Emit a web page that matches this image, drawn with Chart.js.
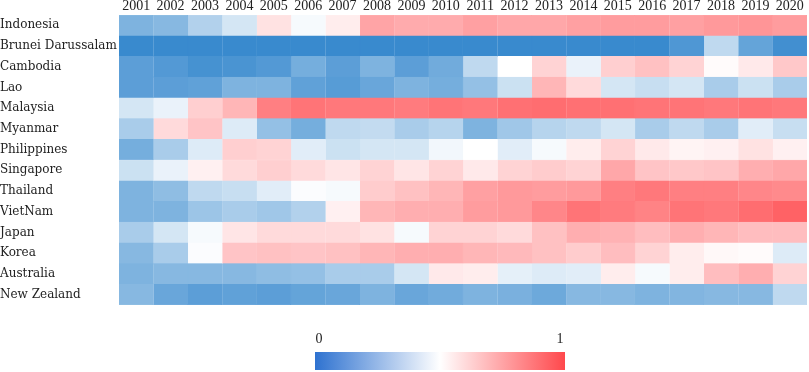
<!DOCTYPE html>
<html>
<head>
<meta charset="utf-8">
<script src="https://cdn.jsdelivr.net/npm/chart.js@4/dist/chart.umd.min.js"></script>
<style>
  html, body { margin: 0; padding: 0; background: #fff; }
  #wrap { width: 809px; height: 372px; position: relative; }
</style>
</head>
<body>
<div id="wrap"><canvas id="heat"></canvas></div>
<script>
// heatmap, values scaled 0..1
const years = ["2001","2002","2003","2004","2005","2006","2007","2008","2009","2010",
               "2011","2012","2013","2014","2015","2016","2017","2018","2019","2020"];
const countries = ["Indonesia","Brunei Darussalam","Cambodia","Lao","Malaysia","Myanmar",
                   "Philippines","Singapore","Thailand","VietNam","Japan","Korea","Australia","New Zealand"];

const indonesia   = [0.20,0.22,0.32,0.40,0.58,0.48,0.55,0.75,0.73,0.73,0.76,0.74,0.74,0.76,0.77,0.77,0.76,0.78,0.79,0.77];
const brunei      = [0.04,0.04,0.04,0.04,0.04,0.04,0.04,0.04,0.04,0.04,0.04,0.04,0.04,0.04,0.04,0.04,0.09,0.35,0.14,0.06];
const cambodia    = [0.12,0.10,0.07,0.08,0.10,0.18,0.12,0.20,0.12,0.17,0.35,0.50,0.62,0.45,0.63,0.67,0.62,0.51,0.56,0.65];
const lao         = [0.12,0.12,0.13,0.20,0.20,0.13,0.11,0.15,0.20,0.18,0.25,0.38,0.70,0.60,0.40,0.37,0.40,0.30,0.38,0.30];
const malaysia    = [0.40,0.45,0.63,0.70,0.85,0.88,0.87,0.87,0.86,0.88,0.87,0.89,0.90,0.89,0.89,0.88,0.88,0.87,0.88,0.87];
const myanmar     = [0.30,0.60,0.66,0.42,0.25,0.18,0.35,0.36,0.30,0.33,0.20,0.28,0.33,0.35,0.40,0.30,0.35,0.30,0.43,0.37];
const philippines = [0.18,0.30,0.42,0.63,0.62,0.43,0.38,0.40,0.40,0.47,0.50,0.43,0.48,0.55,0.62,0.56,0.53,0.54,0.58,0.54];
const singapore   = [0.38,0.45,0.54,0.60,0.63,0.60,0.57,0.62,0.57,0.62,0.56,0.62,0.64,0.62,0.74,0.66,0.65,0.66,0.72,0.74];
const thailand    = [0.20,0.24,0.35,0.37,0.43,0.49,0.48,0.64,0.67,0.70,0.76,0.78,0.77,0.78,0.85,0.87,0.85,0.85,0.83,0.82];
const vietnam     = [0.20,0.20,0.27,0.30,0.28,0.32,0.54,0.70,0.72,0.72,0.77,0.78,0.83,0.88,0.86,0.84,0.88,0.87,0.90,0.93];
const japan       = [0.30,0.40,0.48,0.57,0.60,0.60,0.60,0.58,0.48,0.62,0.62,0.60,0.67,0.72,0.71,0.68,0.72,0.70,0.68,0.68];
const korea       = [0.22,0.30,0.49,0.66,0.67,0.66,0.67,0.70,0.72,0.72,0.70,0.69,0.67,0.64,0.68,0.62,0.55,0.52,0.51,0.42];
const australia   = [0.20,0.22,0.22,0.22,0.24,0.25,0.30,0.30,0.40,0.56,0.55,0.44,0.42,0.43,0.55,0.48,0.55,0.68,0.72,0.62];
const newZealand  = [0.22,0.15,0.12,0.13,0.12,0.14,0.15,0.20,0.15,0.17,0.20,0.19,0.16,0.22,0.22,0.20,0.21,0.22,0.22,0.35];

const rows = [indonesia, brunei, cambodia, lao, malaysia, myanmar, philippines,
              singapore, thailand, vietnam, japan, korea, australia, newZealand];

const scaleLabels = ["0", "1"];

const BLUE = [40, 128, 202];
const WHITE = [255, 255, 255];
const RED = [255, 72, 76];

function mix(a, b, t) {
  return a.map((c, i) => Math.round(c + (b[i] - c) * t));
}
function cmap(v) {
  const c = v < 0.5 ? mix(BLUE, WHITE, v / 0.5) : mix(WHITE, RED, (v - 0.5) / 0.5);
  return `rgb(${c[0]},${c[1]},${c[2]})`;
}

const textColor = "#222";

// each year is one stacked segment of width 1, coloured by value
const datasets = years.map((yr, j) => ({
  label: yr,
  data: countries.map(() => 1),
  backgroundColor: rows.map(r => cmap(r[j])),
  borderColor: rows.map(r => cmap(r[j])),
  borderWidth: 0.5,
  barPercentage: 1,
  categoryPercentage: 1
}));

const colorBar = {
  id: "colorBar",
  afterDraw(chart) {
    const ctx = chart.ctx;
    const x0 = 315, x1 = 565, y0 = 352, y1 = 370;
    const g = ctx.createLinearGradient(x0, 0, x1, 0);
    g.addColorStop(0, "rgb(46,114,208)");
    g.addColorStop(0.5, cmap(0.5));
    g.addColorStop(1, cmap(1));
    ctx.save();
    ctx.fillStyle = g;
    ctx.fillRect(x0, y0, x1 - x0, y1 - y0);
    ctx.fillStyle = textColor;
    ctx.font = "14px 'Liberation Serif'";
    ctx.textAlign = "center";
    ctx.textBaseline = "middle";
    ctx.fillText(scaleLabels[0], 319, 339);
    ctx.fillText(scaleLabels[1], 560, 339);
    ctx.restore();
  }
};

new Chart(document.getElementById("heat"), {
  type: "bar",
  data: { labels: countries, datasets: datasets },
  options: {
    indexAxis: "y",
    responsive: true,
    maintainAspectRatio: false,
    animation: false,
    layout: { padding: { left: 0, right: 2, top: 0, bottom: 67 } },
    plugins: { legend: { display: false }, tooltip: { enabled: false } },
    scales: {
      x: { type: "linear", stacked: true, min: 0, max: 20, display: false },
      years: {
        type: "category",
        labels: years,
        position: "top",
        offset: true,
        grid: { display: false, drawTicks: false, tickLength: 0 },
        border: { display: false },
        ticks: { color: textColor, font: { family: "Liberation Serif", size: 14 },
                 padding: 0, maxRotation: 0, autoSkip: false },
        afterFit(s) { s.height = 15; }
      },
      y: {
        type: "category",
        stacked: true,
        grid: { display: false, drawTicks: false, tickLength: 0 },
        border: { display: false },
        ticks: { color: textColor, font: { family: "DejaVu Serif", size: 12 },
                 crossAlign: "far", autoSkip: false, padding: 2 },
        afterFit(s) { s.width = 119; }
      }
    }
  },
  plugins: [colorBar]
});
</script>
</body>
</html>
